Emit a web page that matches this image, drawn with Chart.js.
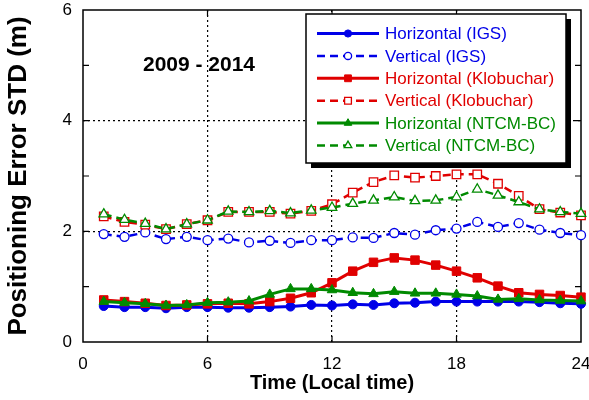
<!DOCTYPE html>
<html><head><meta charset="utf-8">
<script src="https://cdn.jsdelivr.net/npm/chart.js@4/dist/chart.umd.min.js"></script>
<style>html,body{margin:0;padding:0;background:#fff;}#wrap{width:589px;height:400px;}</style>
</head><body><div id="wrap"><canvas id="c" width="589" height="400"></canvas></div>
<script>
const hours = [1,2,3,4,5,6,7,8,9,10,11,12,13,14,15,16,17,18,19,20,21,22,23,24];
const igsH  = [0.65,0.63,0.63,0.61,0.63,0.63,0.62,0.62,0.63,0.64,0.67,0.66,0.68,0.67,0.70,0.71,0.73,0.73,0.73,0.73,0.73,0.72,0.70,0.69];
const igsV  = [1.95,1.90,1.98,1.86,1.90,1.84,1.87,1.80,1.83,1.79,1.84,1.84,1.89,1.88,1.97,1.94,2.02,2.05,2.17,2.08,2.15,2.03,1.97,1.93];
const klobH = [0.76,0.73,0.70,0.66,0.67,0.69,0.70,0.69,0.73,0.79,0.89,1.07,1.28,1.44,1.52,1.48,1.39,1.28,1.16,1.01,0.89,0.86,0.84,0.81];
const klobV = [2.27,2.17,2.12,2.04,2.13,2.20,2.35,2.35,2.35,2.32,2.37,2.49,2.70,2.89,3.01,2.97,3.00,3.03,3.03,2.86,2.64,2.40,2.34,2.29];
const ntcmH = [0.73,0.71,0.69,0.66,0.67,0.71,0.72,0.74,0.86,0.96,0.96,0.94,0.89,0.87,0.91,0.88,0.88,0.86,0.83,0.77,0.78,0.76,0.75,0.74];
const ntcmV = [2.31,2.21,2.14,2.04,2.13,2.20,2.36,2.35,2.37,2.33,2.38,2.43,2.50,2.56,2.62,2.55,2.56,2.62,2.76,2.65,2.53,2.40,2.35,2.32];
const seriesLabels = ['Horizontal (IGS)','Vertical (IGS)','Horizontal (Klobuchar)','Vertical (Klobuchar)','Horizontal (NTCM-BC)','Vertical (NTCM-BC)'];
const xTicks = [0,6,12,18,24];
const yTicks = [0,2,4,6];
const yMinorTicks = [1,3,5];
const periodLabel = '2009 - 2014';

const BLUE='#0000e8', RED='#e00000', GREEN='#008a00';
const FONT = "'Liberation Sans', Arial, sans-serif";
const pts = arr => arr.map((v,i)=>({x:hours[i], y:v}));

function ds(label, data, color, dashed, style, radius, order){
  return {
    label, data: pts(data), borderColor: color, backgroundColor: color,
    borderWidth: dashed ? 2.5 : 3, borderDash: dashed ? [8,5] : [],
    pointStyle: style, pointRadius: radius, pointBorderColor: color,
    pointBackgroundColor: dashed ? '#ffffff' : color, pointBorderWidth: dashed ? 1.3 : 1,
    tension: 0, clip: false, order
  };
}
const datasets = [
  ds(seriesLabels[0], igsH, BLUE, false, 'circle', 4.5, 2),
  ds(seriesLabels[1], igsV, BLUE, true, 'circle', 4.5, 2),
  ds(seriesLabels[2], klobH, RED, false, 'rect', 6, 1),
  ds(seriesLabels[3], klobV, RED, true, 'rect', 6, 1),
  ds(seriesLabels[4], ntcmH, GREEN, false, 'triangle', 5.5, 0),
  ds(seriesLabels[5], ntcmV, GREEN, true, 'triangle', 5.5, 0)
];

const decor = {
  id: 'decor',
  beforeDatasetsDraw(chart){
    const {ctx, chartArea:a, scales:{x,y}} = chart;
    ctx.save();
    ctx.strokeStyle = '#000'; ctx.lineWidth = 1.5;
    ctx.strokeRect(a.left, a.top, a.right-a.left, a.bottom-a.top);
    ctx.lineWidth = 1.2;
    ctx.beginPath();
    yMinorTicks.concat([2,4]).forEach(v=>{
      const py = y.getPixelForValue(v);
      ctx.moveTo(a.left, py); ctx.lineTo(a.left+6, py);
      ctx.moveTo(a.right, py); ctx.lineTo(a.right-6, py);
    });
    [6,12,18].forEach(v=>{
      const px = x.getPixelForValue(v);
      ctx.moveTo(px, a.bottom); ctx.lineTo(px, a.bottom-6);
      ctx.moveTo(px, a.top); ctx.lineTo(px, a.top+6);
    });
    ctx.stroke();
    ctx.restore();
  },
  afterDraw(chart){
    const {ctx} = chart;
    ctx.save();
    ctx.fillStyle = '#000';
    ctx.font = "bold 21px " + FONT;
    ctx.textAlign = 'center'; ctx.textBaseline = 'middle';
    ctx.fillText(periodLabel, 199, 65);
    // legend
    const bx=306, by=14, bw=260, bh=149;
    ctx.fillStyle = '#000';
    ctx.fillRect(bx+5, by+5, bw, bh);
    ctx.fillStyle = '#fff';
    ctx.fillRect(bx, by, bw, bh);
    ctx.strokeStyle = '#000'; ctx.lineWidth = 1.5;
    ctx.strokeRect(bx, by, bw, bh);
    ctx.font = "17px " + FONT;
    ctx.textAlign = 'left';
    datasets.forEach((d,i)=>{
      const cy = 33.5 + i*22.4;
      ctx.strokeStyle = d.borderColor; ctx.lineWidth = d.borderWidth;
      ctx.setLineDash(d.borderDash);
      ctx.beginPath(); ctx.moveTo(317, cy); ctx.lineTo(379, cy); ctx.stroke();
      ctx.setLineDash([]);
      ctx.fillStyle = d.pointBackgroundColor; ctx.strokeStyle = d.borderColor; ctx.lineWidth = d.pointBorderWidth;
      Chart.helpers.drawPoint(ctx, {pointStyle: d.pointStyle, radius: d.pointRadius*0.8, borderWidth: d.pointBorderWidth}, 348, cy);
      ctx.fillStyle = d.borderColor;
      ctx.fillText(d.label, 385, cy+1);
    });
    ctx.restore();
  }
};

new Chart(document.getElementById('c'), {
  type: 'line',
  data: { datasets },
  options: {
    responsive: false, animation: false, devicePixelRatio: 1,
    layout: { padding: { top: 10, right: 8, left: 0, bottom: 0 } },
    plugins: { legend: { display: false }, tooltip: { enabled: false } },
    scales: {
      x: {
        type: 'linear', min: 0, max: 24,
        afterBuildTicks: s => { s.ticks = xTicks.map(v=>({value:v})); },
        afterFit: s => { s.height = 58; s.paddingRight = 0; s.paddingLeft = 0; },
        ticks: { color: '#000', font: { family: FONT, size: 17 }, padding: 12, maxRotation: 0 },
        grid: { drawTicks: false, lineWidth: 1.2,
          color: c => ([6,12,18].includes(c.tick && c.tick.value) ? '#000' : 'rgba(0,0,0,0)') },
        border: { display: false, dash: [2,3] },
        title: { display: true, text: 'Time (Local time)', color: '#000',
          font: { family: FONT, size: 20, weight: 'bold' }, padding: { top: 0, bottom: 5 } }
      },
      y: {
        type: 'linear', min: 0, max: 6,
        afterBuildTicks: s => { s.ticks = yTicks.map(v=>({value:v})); },
        afterFit: s => { s.width = 83; s.paddingTop = 0; s.paddingBottom = 0; },
        ticks: { color: '#000', font: { family: FONT, size: 17 }, padding: 11 },
        grid: { drawTicks: false, lineWidth: 1.2,
          color: c => ([2,4].includes(c.tick && c.tick.value) ? '#000' : 'rgba(0,0,0,0)') },
        border: { display: false, dash: [2,3] },
        title: { display: true, text: 'Positioning Error STD (m)', color: '#000',
          font: { family: FONT, size: 26, weight: 'bold' }, padding: { top: 3, bottom: 0 } }
      }
    }
  },
  plugins: [decor]
});
</script></body></html>
